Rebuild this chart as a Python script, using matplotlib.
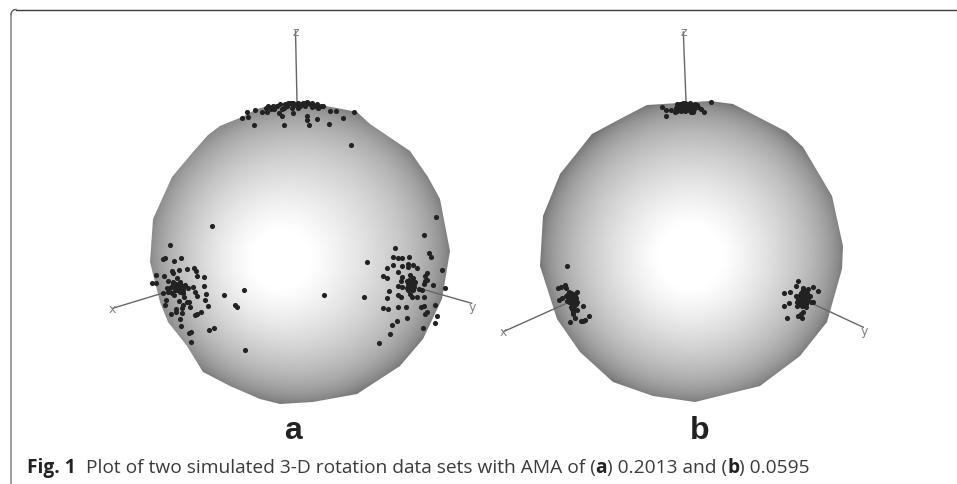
import numpy as np
import matplotlib as mpl
import matplotlib.pyplot as plt
from matplotlib.patches import Polygon

mpl.use('Agg')

outline_a_x = [257, 242, 220, 208, 193, 172, 153, 150, 160, 168, 187, 203, 230, 260, 280, 313, 357, 400, 423, 442, 450, 440, 428, 410, 370, 357, 337, 303, 277]
outline_a_y = [110, 118, 127, 136, 153, 178, 220, 263, 303, 323, 347, 373, 387, 400, 405, 403, 395, 367, 340, 300, 252, 200, 178, 152, 125, 113, 109, 103, 105]
outline_b_x = [647, 710, 733, 787, 803, 832, 843, 842, 827, 800, 760, 695, 653, 613, 580, 557, 540, 543, 560, 592, 620]
outline_b_y = [106, 102, 105, 133, 148, 197, 247, 270, 323, 357, 387, 403, 397, 383, 353, 320, 267, 217, 175, 135, 120]

top_a_x = [241.7, 247.3, 248.3, 255.3, 261.7, 266, 266.7, 268.3, 270.7, 273.3, 274, 276.7, 280, 279.3, 281.7, 281.7, 284, 285, 287.3, 290, 291.7, 293.3, 291.7, 295.7, 298.3, 298.3, 301.7, 303.3, 305, 306.7, 308.3, 310, 311.7, 315, 316.7, 318.3, 320.7, 322.7, 293.3, 307.3, 306.7, 309, 316.7, 329, 343.3, 330, 335.7, 354.3, 254.3, 283.7, 351, 288, 294, 300, 304, 312]
top_a_y = [119, 113.3, 117.7, 110.7, 113.3, 109, 113.3, 107.3, 110, 106.7, 110, 107.3, 105, 114, 117.3, 110, 109.3, 105, 106.7, 104.3, 104, 104, 109, 105, 104, 109, 105, 104, 106.7, 103.3, 104.3, 105, 107.7, 106.7, 105, 109, 106.7, 107.3, 114, 117, 121.3, 126, 119.7, 124.7, 119, 111.7, 111.7, 113.3, 126, 126, 145.7, 103.5, 106, 106.5, 103.5, 104]

left_a_x = [212.3, 170.3, 181.3, 174, 163.3, 165, 156, 151.7, 156, 164, 171.7, 172.7, 179, 187.3, 194, 196, 197.3, 204.3, 203.7, 168.3, 173.3, 177.3, 180, 185, 188.3, 193.3, 195, 197.3, 205.7, 205.3, 208.3, 166.7, 169, 170.7, 175, 177.3, 179.3, 181.7, 180, 178.3, 182.7, 174, 163.3, 166, 165.3, 179.3, 184, 186.7, 183.3, 189, 190, 182, 176.3, 176, 170.7, 182, 180, 200.7, 197.3, 195.3, 181.3, 190.7, 189, 191.3, 213.7, 209.3, 223.7, 244.3, 234.7, 237.3, 245, 168.3, 171.7, 180.7, 176, 178, 180, 182, 184, 177, 179, 181, 183, 175, 173]
left_a_y = [227.3, 246.3, 259.3, 262.3, 260.3, 259, 275.7, 284.3, 284.3, 277.3, 271.7, 274.3, 270.7, 270, 269, 272, 277.3, 278.3, 286.7, 281.7, 283.3, 279.3, 282.7, 285.7, 289, 288.3, 293.3, 297.3, 294.7, 301.3, 307, 289, 291.7, 287.7, 288.3, 289, 288.3, 290, 292.7, 286.7, 294, 296, 294.3, 301, 306.3, 301.7, 297.7, 302.7, 306, 303.3, 308.3, 309, 310, 312.7, 314.7, 313.7, 320.3, 312.7, 315, 316, 327.3, 332.7, 334, 343, 328.7, 331.3, 295.7, 291.3, 305.7, 308.3, 351.3, 292.7, 294, 286.7, 285, 287, 285, 289, 287, 291, 291, 293, 291, 291, 285]

right_a_x = [436, 424, 395, 366.7, 393.3, 398.3, 402.3, 409, 429.3, 431.3, 387.3, 393.3, 402.3, 408.3, 408.3, 412.7, 416.7, 441.7, 398.3, 426.7, 425.3, 383.3, 386.7, 401.7, 410, 413.3, 401, 406.7, 410.7, 412.7, 410, 415, 411.7, 408.3, 425, 427.3, 424.3, 432.7, 398.3, 401.7, 419, 422.3, 445.3, 389.3, 364, 387.3, 398.3, 400.7, 410, 411.7, 416.7, 424, 383.3, 387.7, 398.3, 405.7, 421, 424.3, 434.7, 426.7, 425, 437.3, 407.3, 396.7, 392.3, 434.7, 422.7, 390, 379.3, 411.3, 408.3, 414, 406.7, 324.3, 409, 412, 414, 408, 411, 413]
right_a_y = [217.7, 236.3, 249, 263.3, 258.3, 259.3, 259.3, 257.7, 254, 258.3, 268.7, 266.3, 267, 265, 268, 265.7, 269.3, 270.7, 273, 274, 276.7, 277.3, 279, 278.3, 276, 279, 282.3, 281.7, 283.3, 285, 287.3, 283.3, 290, 290.7, 281.7, 281, 285.3, 286, 287.3, 287.7, 290, 291, 289, 292.3, 298, 299, 296, 298.3, 295, 298.3, 298.3, 298.3, 309.3, 310, 308.3, 307.7, 307.7, 306.7, 306, 312.7, 314.7, 316.7, 319, 321.7, 326, 323.7, 328.7, 334.7, 344, 286, 284, 288.3, 289.3, 295.7, 281, 281.5, 285, 287, 288, 291]

top_b_x = [661.7, 666, 670.7, 666, 675, 676.7, 676, 679.3, 679.3, 682.7, 682.7, 685, 686.7, 688.3, 690, 690.7, 692.7, 693.3, 696.7, 698.3, 700.7, 704.3, 710.7, 681, 677.3, 690, 683.3, 680, 685, 688, 692, 695, 678, 683, 687, 694]
top_b_y = [108.3, 111, 111, 117, 113.3, 105, 109.3, 106, 110, 104, 108.3, 111.7, 105, 108.3, 104, 113.3, 113.3, 107.3, 106, 108.3, 110, 112.7, 102.7, 111.7, 111.7, 110, 106, 104.5, 103.5, 106, 105.5, 104.5, 107.5, 110, 110.5, 109.5]

left_b_x = [567.3, 558.3, 560.7, 565.3, 566, 559, 561.7, 569.3, 576.7, 566, 568.3, 570.7, 573.3, 576, 567.3, 570, 573.3, 576.7, 570, 572.7, 571.7, 574, 571.7, 573.3, 572.7, 577.3, 583.3, 576, 575.3, 570, 589, 585, 580.7, 582.7, 569, 571, 573, 575, 569, 572, 574, 571, 573, 574, 572, 575, 568, 571]
left_b_y = [267.3, 289.3, 288, 285.7, 289, 300.7, 299.3, 293.3, 292.7, 296.7, 298.3, 300, 298.3, 299.3, 301.7, 303.3, 302.7, 303.3, 296.7, 295, 306, 306.7, 310, 313.3, 315, 310.7, 307, 305, 319, 323.3, 317.3, 321.3, 322.3, 322, 300, 298, 300, 301, 303, 305, 304, 308, 308, 311, 301.5, 296.5, 295, 294]

right_b_x = [798.3, 796, 802.7, 813.3, 817.7, 784.3, 790, 808.3, 796, 801.7, 805, 800, 803.3, 806.7, 810, 798.3, 801.7, 805, 807.3, 796.7, 799.3, 803.3, 806, 801.7, 797.3, 813.3, 810.7, 789, 784, 802.7, 800.7, 797.7, 801.7, 786.7, 803, 805, 801, 804, 807, 799, 802, 805, 800, 803, 808, 798, 806]
right_b_y = [281.7, 286.7, 289.3, 287.7, 291.7, 294, 293.3, 290, 296.7, 292.7, 291.7, 296, 295, 294.3, 297.3, 300, 298.3, 299.3, 301.7, 302.7, 305, 303.3, 305, 307.3, 306.7, 303.3, 302.7, 304.3, 306.7, 312.7, 315, 316.7, 319, 319.3, 290, 294, 294, 297, 297, 298, 301, 302, 304, 306, 299, 304, 308]

axis_names = ['z', 'x', 'y']
axes_a_x = [[295.5, 297], [112.7, 163], [471.7, 421.7]]
axes_a_y = [[32, 103], [309.3, 294], [304.3, 290]]
axes_b_x = [[683.3, 686], [503.3, 565], [863.3, 813.3]]
axes_b_y = [[33, 102], [332.7, 305], [328.3, 305]]

panel_labels = ['a', 'b']
caption = [('Fig. 1', True), ('  Plot of two simulated 3-D rotation data sets with AMA of (', False),
           ('a', True), (') 0.2013 and (', False), ('b', True), (') 0.0595', False)]

fig = plt.figure(figsize=(9.57, 4.85), dpi=100)
ax = fig.add_axes([0, 0, 1, 1])
ax.set_xlim(0, 957)
ax.set_ylim(485, 0)
ax.axis('off')


def sphere(xs, ys, cx, cy, r, hx, hy):
    # shaded ball, cut to the faceted outline
    gx, gy = np.meshgrid(np.arange(cx - r - 12, cx + r + 13), np.arange(cy - r - 12, cy + r + 13))
    d = np.clip(np.hypot(gx - cx, gy - cy) / (r + 3), 0, 1)
    glow = np.exp(-(np.hypot(gx - hx, gy - hy) / (0.5 * r)) ** 2)
    shade = np.clip(0.36 + 0.55 * np.sqrt(1 - d ** 2) + 0.12 * glow, 0, 1)
    im = ax.imshow(shade, cmap='gray', vmin=0, vmax=1, interpolation='bilinear', zorder=1,
                   extent=[gx.min(), gx.max(), gy.max(), gy.min()], aspect='auto')
    poly = Polygon(np.column_stack([xs, ys]), closed=True, facecolor='none', edgecolor='none')
    ax.add_patch(poly)
    im.set_clip_path(poly)


def axis_lines(xs, ys):
    for name, lx, ly in zip(axis_names, xs, ys):
        ax.plot(lx, ly, color='#666666', lw=1.0, zorder=3)
        ax.text(lx[0] + (1 if name == 'y' else 0), ly[0] + (3.5 if name == 'y' else 0), name,
                color='#808080', fontsize=9, ha='center', va='center', family='DejaVu Sans', zorder=3)


sphere(outline_a_x, outline_a_y, 298, 253, 153, 270, 265)
sphere(outline_b_x, outline_b_y, 692, 252, 152, 690, 262)
axis_lines(axes_a_x, axes_a_y)
axis_lines(axes_b_x, axes_b_y)

for px, py in [(top_a_x, top_a_y), (left_a_x, left_a_y), (right_a_x, right_a_y),
               (top_b_x, top_b_y), (left_b_x, left_b_y), (right_b_x, right_b_y)]:
    ax.plot(px, py, 'o', color='#222222', ms=3.7, mew=0, zorder=4)

ax.text(293, 431, panel_labels[0], family='Liberation Sans', weight='bold', fontsize=23,
        ha='center', va='center', color='#222222')
ax.text(700, 431, panel_labels[1], family='Liberation Sans', weight='bold', fontsize=23,
        ha='center', va='center', color='#222222')

# frame: top line and left line with a small round corner
ax.plot([16, 957], [10.5, 10.5], color='#3c3c3c', lw=1.0, zorder=2)
ax.plot([11, 11], [15.5, 485], color='#858585', lw=1.1, zorder=2)
t = np.linspace(np.pi, 1.5 * np.pi, 12)
ax.plot(16 + 5 * np.cos(t), 15.5 + 5 * np.sin(t), color='#5a5a5a', lw=1.0, zorder=2)

# caption pieces set one after the other
fig.canvas.draw()
rend = fig.canvas.get_renderer()
pos = 27
for piece, bold in caption:
    txt = ax.text(pos, 473, piece, family='Open Sans', fontsize=13.8, color='#222222' if bold else '#3a3a3a',
                  weight='bold' if bold else 'normal', ha='left', va='baseline')
    pos += txt.get_window_extent(rend).width

plt.savefig('out.png', dpi=100)
